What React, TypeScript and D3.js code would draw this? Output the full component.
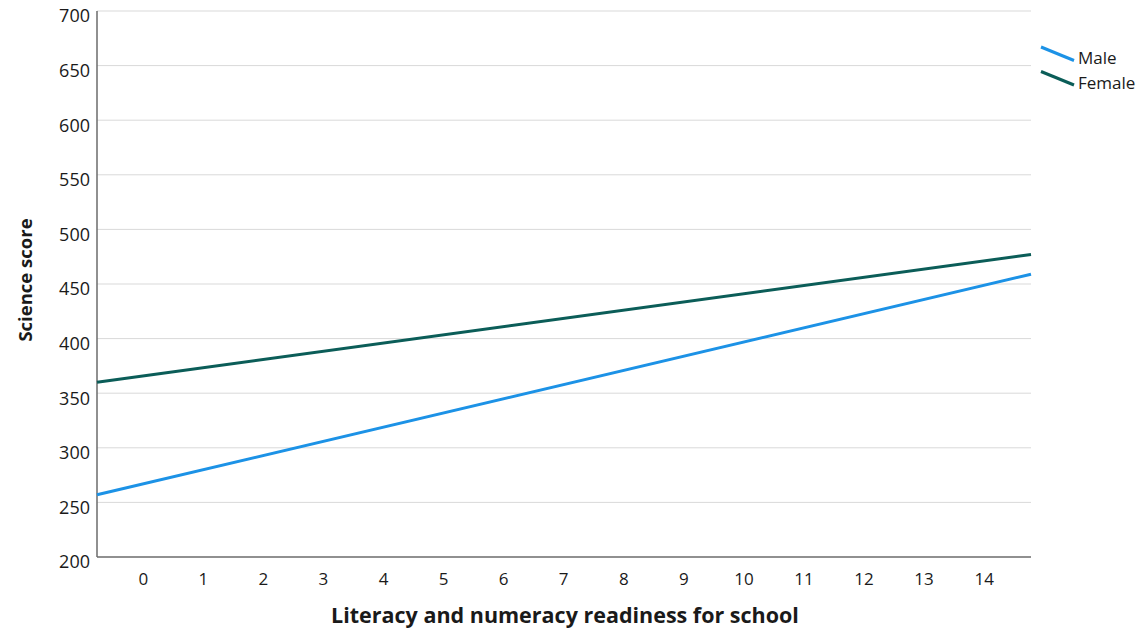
import React from "react";
import * as d3 from "d3";

const xTicks = [0, 1, 2, 3, 4, 5, 6, 7, 8, 9, 10, 11, 12, 13, 14];
const yTicks = [200, 250, 300, 350, 400, 450, 500, 550, 600, 650, 700];
const xExtent = [-0.77, 14.78];
const maleValues = [257, 459];
const femaleValues = [360, 477];
const seriesNames = ["Male", "Female"];
const seriesColors = ["#1c92e6", "#0b5d58"];

const W = 1148;
const H = 635;
const margin = { left: 97, right: 117, top: 11, bottom: 78 };

export default function App() {
  const x = d3.scaleLinear().domain(xExtent).range([margin.left, W - margin.right]);
  const y = d3.scaleLinear().domain([200, 700]).range([H - margin.bottom, margin.top]);
  const line = d3
    .line<[number, number]>()
    .x((d) => x(d[0]))
    .y((d) => y(d[1]));
  const series = [maleValues, femaleValues].map((vals) =>
    vals.map((v, i) => [xExtent[i], v] as [number, number])
  );
  const font = "'Open Sans', 'Noto Sans', sans-serif";
  return (
    <svg width={W} height={H} style={{ position: "absolute", left: 0, top: 0 }} fontFamily={font}>
      {yTicks.map((t) => (
        <g key={t}>
          {t > 200 && (
            <line x1={x(xExtent[0])} x2={x(xExtent[1])} y1={y(t)} y2={y(t)} stroke="#d9d9d9" strokeWidth={1} />
          )}
          <text x={90} y={y(t) + 5} dy="0.35em" textAnchor="end" fontSize={18} fill="#1a1a1a">
            {t}
          </text>
        </g>
      ))}
      <line x1={x(xExtent[0])} x2={x(xExtent[0])} y1={y(700)} y2={y(200)} stroke="#6b6b6b" strokeWidth={1.5} />
      <line x1={x(xExtent[0])} x2={x(xExtent[1])} y1={y(200)} y2={y(200)} stroke="#6b6b6b" strokeWidth={1.5} />
      {xTicks.map((t) => (
        <text key={t} x={x(t)} y={585} textAnchor="middle" fontSize={17} fill="#1a1a1a">
          {t}
        </text>
      ))}
      {series.map((s, i) => (
        <path key={i} d={line(s) || ""} fill="none" stroke={seriesColors[i]} strokeWidth={3} />
      ))}
      <text x={565} y={623} textAnchor="middle" fontSize={21.5} fontWeight="bold" fill="#1a1a1a">
        Literacy and numeracy readiness for school
      </text>
      <text transform={`translate(32,${280}) rotate(-90)`} textAnchor="middle" fontSize={18.5} fontWeight="bold" fill="#1a1a1a">
        Science score
      </text>
      {seriesNames.map((n, i) => (
        <g key={n} transform={`translate(0,${i * 24.5})`}>
          <line x1={1041} y1={47} x2={1074} y2={60.5} stroke={seriesColors[i]} strokeWidth={3} />
          <text x={1078} y={64} fontSize={17} fill="#1a1a1a">
            {n}
          </text>
        </g>
      ))}
    </svg>
  );
}
